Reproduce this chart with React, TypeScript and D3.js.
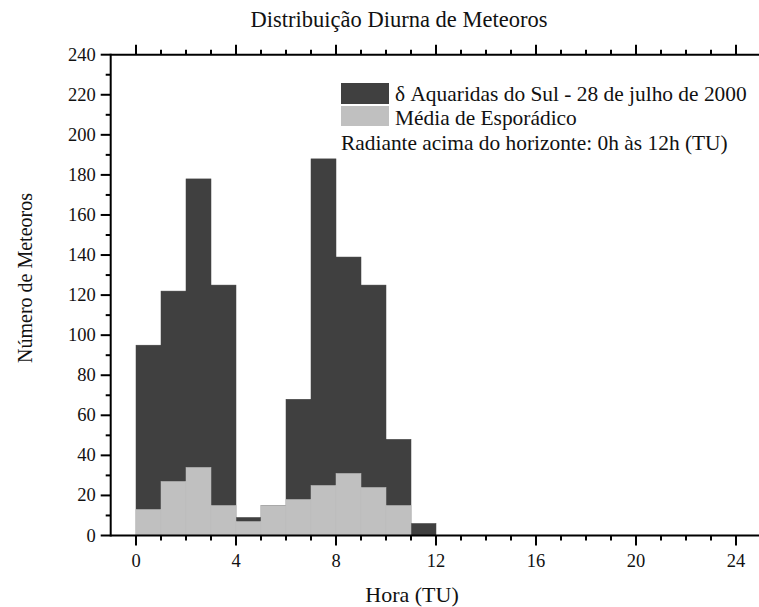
import React from "react";
import * as d3 from "d3";

// Hourly bins (start hour of each 1-hour interval, UT)
const hours = [0, 1, 2, 3, 4, 5, 6, 7, 8, 9, 10, 11];
// Meteor counts per hour: Southern δ Aquariids night (28 July 2000)
const showerCounts = [95, 122, 178, 125, 9, 15, 68, 188, 139, 125, 48, 6];
// Mean sporadic counts per hour
const sporadicCounts = [13, 27, 34, 15, 7, 15, 18, 25, 31, 24, 15, 0];

const xTicksMajor = [0, 4, 8, 12, 16, 20, 24];
const yTicksMajor = [0, 20, 40, 60, 80, 100, 120, 140, 160, 180, 200, 220, 240];

const W = 759;
const H = 607;
const left = 110.7;
const right = 759;
const top = 54.7;
const bottom = 535.5;

const FONT = "'Liberation Serif', 'Times New Roman', serif";
const DARK = "#404040";
const LIGHT = "#c0c0c0";

export default function App() {
  const x = d3.scaleLinear().domain([0, 24]).range([136, 736]);
  const y = d3.scaleLinear().domain([0, 240]).range([bottom, top]);

  const xMinor = d3.range(0, 25).filter((h) => h % 4 !== 0);
  const yMinor = d3.range(10, 240, 20);

  return (
    <svg
      width={W}
      height={H}
      style={{ position: "absolute", left: 0, top: 0, background: "#fff" }}
      fontFamily={FONT}
    >
      {/* shower totals (dark) with sporadic means overlaid (light) */}
      {hours.map((h, i) => (
        <rect
          key={"s" + h}
          x={x(h)}
          y={y(showerCounts[i])}
          width={x(h + 1) - x(h)}
          height={y(0) - y(showerCounts[i])}
          fill={DARK}
          stroke={DARK}
          strokeWidth={0.5}
        />
      ))}
      {hours.map((h, i) =>
        sporadicCounts[i] > 0 ? (
          <rect
            key={"p" + h}
            x={x(h)}
            y={y(sporadicCounts[i])}
            width={x(h + 1) - x(h)}
            height={y(0) - y(sporadicCounts[i])}
            fill={LIGHT}
            stroke="#bababa"
            strokeWidth={0.5}
          />
        ) : null
      )}

      {/* axes */}
      <g stroke="#000" strokeWidth={2} fill="none">
        <line x1={left} x2={right} y1={bottom} y2={bottom} />
        <line x1={left} x2={right} y1={top} y2={top} />
        <line x1={left} x2={left} y1={top - 1} y2={bottom + 1} />
        {xTicksMajor.map((t) => (
          <g key={"xm" + t}>
            <line x1={x(t)} x2={x(t)} y1={bottom} y2={bottom + 10} />
            <line x1={x(t)} x2={x(t)} y1={top} y2={top - 10} />
          </g>
        ))}
        {xMinor.map((t) => (
          <g key={"xn" + t}>
            <line x1={x(t)} x2={x(t)} y1={bottom} y2={bottom + 5} />
            <line x1={x(t)} x2={x(t)} y1={top} y2={top - 5} />
          </g>
        ))}
        {yTicksMajor.map((t) => (
          <line key={"ym" + t} x1={left} x2={left - 10} y1={y(t)} y2={y(t)} />
        ))}
        {yMinor.map((t) => (
          <line key={"yn" + t} x1={left} x2={left - 5} y1={y(t)} y2={y(t)} />
        ))}
      </g>

      {/* tick labels */}
      <g fontSize={18.5} fill="#111">
        {xTicksMajor.map((t) => (
          <text key={"xl" + t} x={x(t)} y={bottom + 31} textAnchor="middle">
            {t}
          </text>
        ))}
        {yTicksMajor.map((t) => (
          <text key={"yl" + t} x={left - 15} y={y(t) + 6} textAnchor="end">
            {t}
          </text>
        ))}
      </g>

      {/* titles */}
      <text x={399} y={27} textAnchor="middle" fontSize={22.5} fill="#111">
        Distribuição Diurna de Meteoros
      </text>
      <text x={412} y={602} textAnchor="middle" fontSize={22} fill="#111">
        Hora (TU)
      </text>
      <text
        transform="translate(32,278) rotate(-90)"
        textAnchor="middle"
        fontSize={20}
        fill="#111"
      >
        Número de Meteoros
      </text>

      {/* legend */}
      <rect x={341} y={83} width={48} height={21} fill={DARK} />
      <rect x={341} y={106} width={48} height={20} fill={LIGHT} />
      <g fontSize={21.4} fill="#111">
        <text x={395} y={101}>δ Aquaridas do Sul - 28 de julho de 2000</text>
        <text x={395} y={125}>Média de Esporádico</text>
        <text x={341} y={150}>Radiante acima do horizonte: 0h às 12h (TU)</text>
      </g>
    </svg>
  );
}
